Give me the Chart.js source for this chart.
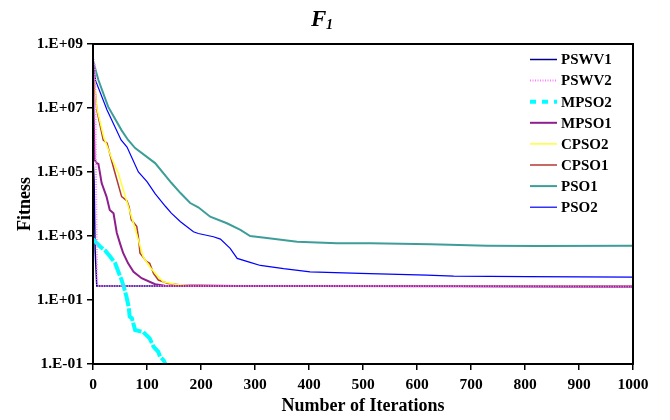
<!DOCTYPE html>
<html>
<head>
<meta charset="utf-8">
<script src="https://cdn.jsdelivr.net/npm/chart.js@4.4.1/dist/chart.umd.min.js"></script>
<style>
html, body { margin: 0; padding: 0; background: #fff; }
#wrap { width: 670px; height: 420px; }
</style>
</head>
<body>
<div id="wrap"><canvas id="chart" width="670" height="420"></canvas></div>
<script>
// series: iteration -> best fitness
var iterPSWV1 = [0, 2, 4, 7, 300, 1000];
var fitPSWV1 = [3e5, 5.6e4, 360, 27.5, 27.5, 26.5];

var iterPSWV2 = [0, 4, 6, 8, 300, 1000];
var fitPSWV2 = [4e8, 2e8, 1e4, 27.5, 27.5, 26.5];

var iterMPSO2 = [0, 13, 22, 32, 41, 47, 53, 57, 62, 66, 68, 72, 78, 93, 105, 112, 121, 124, 131, 134, 137];
var fitMPSO2 = [800, 470, 360, 225, 140, 76, 42, 26, 12.6, 6.2, 3, 2.7, 1.15, 1.0, 0.63, 0.35, 0.24, 0.17, 0.13, 0.1, 0.08];

var iterMPSO1 = [0, 1, 3, 7, 10, 13, 16, 25, 31, 38, 44, 50, 53, 56, 65, 75, 90, 115, 133, 200, 400, 700, 900, 1000];
var fitMPSO1 = [2e8, 1e7, 2.4e5, 1.9e5, 1.8e5, 9.1e4, 4.5e4, 1.7e4, 6500, 5100, 1260, 590, 410, 290, 140, 76, 48, 31, 28, 27.5, 27.5, 27, 26.5, 26.5];

var iterCPSO2 = [0, 7, 20, 35, 47, 62, 75, 84, 93, 105, 118, 130, 152, 180, 400, 1000];
var fitCPSO2 = [2.2e8, 1e7, 1.2e6, 2.6e5, 9e4, 1.3e4, 2.5e3, 750, 220, 110, 60, 37, 31, 28, 27.5, 27];

var iterCPSO1 = [0, 7, 19, 26, 34, 41, 53, 63, 67, 71, 81, 84, 87, 99, 105, 112, 121, 139, 164, 300, 1000];
var fitCPSO1 = [2.2e8, 8.7e6, 1e6, 8e5, 2.4e5, 9e4, 1.7e4, 1.25e4, 8e3, 3.2e3, 2e3, 950, 290, 160, 140, 68, 42, 33, 29.5, 27.5, 26.5];

var iterPSO1 = [0, 10, 28, 53, 65, 78, 115, 145, 162, 180, 195, 217, 248, 273, 291, 322, 378, 452, 514, 625, 730, 822, 1000];
var fitPSO1 = [3e8, 7.5e7, 1.1e7, 2e6, 1e6, 5.6e5, 1.9e5, 4.6e4, 2.2e4, 1.07e4, 7.9e3, 4e3, 2.5e3, 1.55e3, 1e3, 870, 660, 590, 590, 550, 500, 490, 500];

var iterPSO2 = [0, 5, 26, 52, 63, 84, 100, 115, 134, 145, 162, 186, 195, 223, 236, 254, 267, 291, 310, 353, 402, 495, 618, 668, 804, 1000];
var fitPSO2 = [2.5e8, 7e7, 8.7e6, 1e6, 6e5, 1e5, 5e4, 2.1e4, 8.5e3, 5.2e3, 2.8e3, 1.35e3, 1.2e3, 950, 800, 410, 200, 150, 120, 95, 76, 68, 60, 56, 54, 52];

var seriesNames = ["PSWV1", "PSWV2", "MPSO2", "MPSO1", "CPSO2", "CPSO1", "PSO1", "PSO2"];
var yTickValues = [1e-1, 1e1, 1e3, 1e5, 1e7, 1e9];
var yTickLabels = ["1.E-01", "1.E+01", "1.E+03", "1.E+05", "1.E+07", "1.E+09"];

function toPoints(iters, fits) {
    return iters.map(function(it, i) { return {x: it, y: fits[i]}; });
}

var serif = "'Liberation Serif', 'Times New Roman', serif";

var lineStyles = [
    {color: "#000080", width: 1.5, dash: [], legendDash: [], order: 9},
    {color: "#ff80ff", width: 2, dash: [1, 1.5], legendDash: [1, 1.5], order: 0},
    {color: "#00ffff", width: 4, dash: [14, 2], legendDash: [6, 6], order: 0},
    {color: "#8e1f8e", width: 2, dash: [], legendDash: [], order: 0},
    {color: "#ffff33", width: 1.5, dash: [], legendDash: [], order: 0},
    {color: "#b03a30", width: 1.5, dash: [], legendDash: [], order: 0},
    {color: "#3d9e99", width: 2, dash: [], legendDash: [], order: 0},
    {color: "#0000ff", width: 1.2, dash: [], legendDash: [], order: 0}
];
var allIters = [iterPSWV1, iterPSWV2, iterMPSO2, iterMPSO1, iterCPSO2, iterCPSO1, iterPSO1, iterPSO2];
var allFits = [fitPSWV1, fitPSWV2, fitMPSO2, fitMPSO1, fitCPSO2, fitCPSO1, fitPSO1, fitPSO2];

var datasets = seriesNames.map(function(name, i) {
    var st = lineStyles[i];
    return {
        label: name,
        data: toPoints(allIters[i], allFits[i]),
        borderColor: st.color,
        backgroundColor: st.color,
        borderWidth: st.width,
        borderDash: st.dash,
        legendDash: st.legendDash,
        order: st.order,
        pointRadius: 0,
        tension: 0,
        fill: false
    };
});

// title with subscript, legend on the right, frame round the plot
var extras = {
    id: "extras",
    beforeDraw: function(chart) {
        var ctx = chart.ctx;
        ctx.save();
        ctx.fillStyle = "#fff";
        ctx.fillRect(0, 0, chart.width, chart.height);
        ctx.restore();
    },
    afterDraw: function(chart) {
        var ctx = chart.ctx;
        var a = chart.chartArea;
        ctx.save();
        ctx.strokeStyle = "#000";
        ctx.lineWidth = 2;
        ctx.strokeRect(a.left, a.top, a.right - a.left, a.bottom - a.top);

        ctx.fillStyle = "#000";
        ctx.textBaseline = "alphabetic";
        ctx.font = "italic bold 23px " + serif;
        ctx.fillText("F", 311, 26);
        ctx.font = "italic bold 14px " + serif;
        ctx.fillText("1", 326, 29);

        ctx.font = "bold 15px " + serif;
        ctx.textBaseline = "middle";
        chart.data.datasets.forEach(function(ds, i) {
            var y = 59.5 + i * 21.1;
            ctx.beginPath();
            ctx.strokeStyle = ds.borderColor;
            ctx.lineWidth = ds.borderWidth;
            ctx.setLineDash(ds.legendDash || []);
            ctx.moveTo(530, y);
            ctx.lineTo(557, y);
            ctx.stroke();
            ctx.setLineDash([]);
            ctx.fillStyle = "#000";
            ctx.fillText(ds.label, 561, y + 1);
        });
        ctx.restore();
    }
};

new Chart(document.getElementById("chart"), {
    type: "line",
    data: {datasets: datasets},
    plugins: [extras],
    options: {
        responsive: false,
        animation: false,
        layout: {padding: {top: 44, right: 37, left: 0, bottom: 0}},
        plugins: {
            legend: {display: false},
            title: {display: false},
            tooltip: {enabled: false}
        },
        scales: {
            x: {
                type: "linear",
                min: 0,
                max: 1000,
                afterFit: function(scale) { scale.height = 56; },
                ticks: {
                    stepSize: 100,
                    color: "#000",
                    padding: 6,
                    font: {family: serif, size: 15.5, weight: "bold"},
                    callback: function(value) { return String(value); }
                },
                grid: {drawOnChartArea: false, drawTicks: true, tickLength: 6, color: "#000", lineWidth: 1.5},
                border: {display: true, color: "#222", width: 2},
                title: {
                    display: true,
                    text: "Number of Iterations",
                    color: "#000",
                    padding: {top: 0, bottom: 3},
                    font: {family: serif, size: 18, weight: "bold"}
                }
            },
            y: {
                type: "logarithmic",
                min: 0.1,
                max: 1e9,
                afterFit: function(scale) { scale.width = 93; },
                afterBuildTicks: function(scale) {
                    scale.ticks = yTickValues.map(function(v) { return {value: v}; });
                },
                ticks: {
                    color: "#000",
                    padding: 4,
                    font: {family: serif, size: 15.5, weight: "bold"},
                    callback: function(value) {
                        var idx = yTickValues.indexOf(value);
                        return idx >= 0 ? yTickLabels[idx] : "";
                    }
                },
                grid: {drawOnChartArea: false, drawTicks: true, tickLength: 6, color: "#000", lineWidth: 1.5},
                border: {display: true, color: "#222", width: 2},
                title: {
                    display: true,
                    text: "Fitness",
                    color: "#000",
                    padding: {top: 15, bottom: 0},
                    font: {family: serif, size: 18, weight: "bold"}
                }
            }
        }
    }
});
</script>
</body>
</html>
